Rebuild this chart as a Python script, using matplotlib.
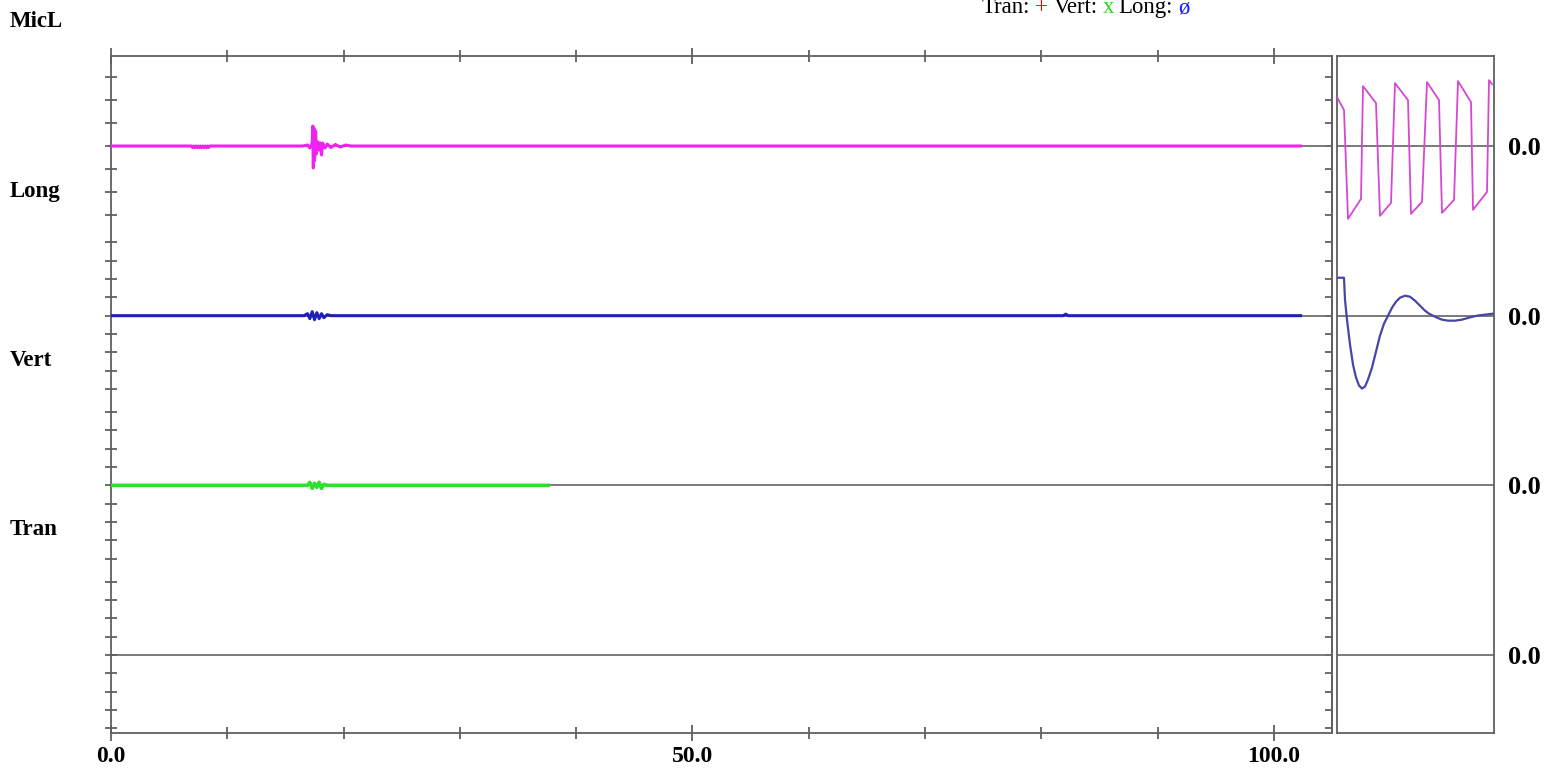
import matplotlib
matplotlib.use("Agg")
import matplotlib.pyplot as plt

# ---------------- data ----------------
channel_names = ["MicL", "Long", "Vert", "Tran"]
channel_offsets = [0, -1, -2, -3]          # baseline of each channel (channel units)
AMP_PER_CHANNEL = 170.0                     # amplitude units per channel spacing

# main record (time axis 0..105)
micl_t = [0.0, 6.9, 7.0, 7.1, 7.2, 7.3, 7.4, 7.5, 7.6, 7.7, 7.8, 7.9, 8.0, 8.1, 8.2, 8.3, 8.4,
          8.5, 16.5, 16.9, 17.1, 17.3, 17.35, 17.4, 17.45, 17.5, 17.6, 17.65, 17.8, 17.9,
          18.0, 18.1, 18.2, 18.4, 18.6, 18.9, 19.3, 19.7, 20.2, 20.6, 102.3]
micl_v = [0, 0, -1.5, 0, -1.5, 0, -1.5, 0, -1.5, 0, -1.5, 0, -1.5, 0, -1.5, 0, -1.5,
          0, 0, 1, -2, 3, 20, -22, 18, -15, 15, -8, 4, -4,
          3, -9, 3, -2, 2, -1.5, 1.5, -1, 1, 0, 0]

long_t = [0.0, 16.6, 16.9, 17.1, 17.3, 17.5, 17.7, 17.9, 18.1, 18.3, 18.6, 18.9, 81.9, 82.1, 82.3, 102.3]
long_v = [0, 0, 2, -3, 4, -4, 3, -3, 2, -2, 1, 0, 0, 1.5, 0, 0]

vert_t = [0.0, 16.9, 17.1, 17.3, 17.5, 17.7, 17.9, 18.1, 18.3, 18.6, 37.6]
vert_v = [0, 0, 3, -3, 2, -2, 3, -3, 1, 0, 0]

tran_t = []
tran_v = []

# zoom window (right panel, sample index 0..157)
zoom_micl_t = [0, 7, 11, 24, 26, 39, 43, 54, 58, 71, 74, 85, 90, 102, 105, 117, 121, 134,
               136, 150, 152, 155]
zoom_micl_v = [49, 36, -73, -53, 60, 43, -70, -57, 63, 46, -68, -56, 64, 46, -67, -54, 65, 44,
               -64, -46, 66, 62]
zoom_long_t = [0, 7, 8, 10, 13, 16, 19, 22, 25, 28, 31, 35, 39, 43, 47, 51, 55, 59, 63, 68,
               73, 78, 83, 88, 92, 96, 100, 105, 111, 118, 125, 132, 140, 148, 156]
zoom_long_v = [38, 38, 16, -4, -29, -49, -62, -70, -73, -71, -64, -52, -36, -20, -8, 0, 8,
               14, 18, 20, 19, 15, 10, 5, 2, 0, -2, -4, -5, -5, -4, -2, 0, 1, 2]

x_major = [0, 50, 100]
x_major_labels = ["0.0", "50.0", "100.0"]
x_minor = [10, 20, 30, 40, 60, 70, 80, 90]

# ---------------- figure ----------------
W, H = 1551, 769
fig = plt.figure(figsize=(W / 100, H / 100), dpi=100)

def fx(px):
    return px / W

def fy(py):
    return 1 - py / H

SERIF = ["Liberation Serif", "DejaVu Serif"]
GRAY = "#606060"

ax = fig.add_axes([fx(111), fy(733), fx(1332) - fx(111), fy(56) - fy(733)])
axr = fig.add_axes([fx(1337), fy(733), fx(1494) - fx(1337), fy(56) - fy(733)])

sp_px = 169.67
ylim = (-3 - 78 / sp_px, 90 / sp_px)

for a in (ax, axr):
    a.set_ylim(*ylim)
    for s in a.spines.values():
        s.set_color(GRAY)
        s.set_linewidth(1.3)
    for off in channel_offsets:
        a.axhline(off, color="#707070", lw=1.3, zorder=1)

ax.set_xlim(0, 105)
axr.set_xlim(0, 157)

# traces
def scaled(vals, off):
    return [off + v / AMP_PER_CHANNEL for v in vals]

ax.plot(micl_t, scaled(micl_v, channel_offsets[0]), color="#f022f0", lw=2.2, zorder=3)
ax.plot(long_t, scaled(long_v, channel_offsets[1]), color="#2020b8", lw=2.2, zorder=3)
ax.plot(vert_t, scaled(vert_v, channel_offsets[2]), color="#2ee02e", lw=2.6, zorder=3)
if tran_t:
    ax.plot(tran_t, scaled(tran_v, channel_offsets[3]), color="red", lw=2.2, zorder=3)

axr.plot(zoom_micl_t, scaled(zoom_micl_v, channel_offsets[0]), color="#d448d4", lw=1.3, zorder=3)
axr.plot(zoom_long_t, scaled(zoom_long_v, channel_offsets[1]), color="#4646a6", lw=1.6, zorder=3)

# x ticks top & bottom
ax.set_xticks(x_major)
ax.set_xticks(x_minor, minor=True)
ax.set_xticklabels(x_major_labels, fontfamily=SERIF, fontweight="bold", fontsize=17)
ax.tick_params(axis="x", which="both", top=True, bottom=True, direction="inout",
               color=GRAY, width=1.3, labeltop=False, labelbottom=True)
ax.tick_params(axis="x", which="major", length=12, pad=3)
ax.tick_params(axis="x", which="minor", length=8.6)

# y ticks: per channel
yt = []
for k in range(-3, 4):
    yt.append(channel_offsets[0] + k * 23 / sp_px)
for off in channel_offsets[1:]:
    for k in range(-4, 5):
        yt.append(off + k * 18.3 / sp_px)
ax.set_yticks(yt)
ax.set_yticklabels([])
ax.tick_params(axis="y", left=True, right=False, direction="inout", length=8.6,
               width=1.3, color=GRAY)
sec = ax.secondary_yaxis("right")
sec.set_yticks(yt)
sec.set_yticklabels([])
sec.tick_params(direction="in", length=5, width=1.3, color=GRAY)
sec.spines["right"].set_color(GRAY)
sec.spines["right"].set_linewidth(1.3)

# right panel: no x ticks, "0.0" labels at baselines on the right
axr.set_xticks([])
axr.yaxis.tick_right()
axr.set_yticks(channel_offsets)
axr.set_yticklabels(["0.0"] * len(channel_offsets), fontfamily=SERIF,
                    fontweight="bold", fontsize=19)
axr.tick_params(axis="y", length=0, pad=10)

# channel names on the left
name_baselines = [27, 197, 366, 535]
for name, yb in zip(channel_names, name_baselines):
    fig.text(fx(10), fy(yb), name, fontfamily=SERIF, fontweight="bold",
             fontsize=16.5, va="baseline", ha="left")

# legend line at top (multi-colored)
pieces = [("Tran:", "black"), ("+", "red"), ("Vert:", "black"), ("x", "#22dd22"),
          ("Long:", "black"), ("\u00f8", "#1a1aff")]
FS_LEG = 16.4
renderer = fig.canvas.get_renderer()
t1 = fig.text(0, 0, "T T", fontfamily=SERIF, fontsize=FS_LEG)
t2 = fig.text(0, 0, "TT", fontfamily=SERIF, fontsize=FS_LEG)
space_w = t1.get_window_extent(renderer).width - t2.get_window_extent(renderer).width
t1.remove()
t2.remove()
xcur = 982.0
for txt, col in pieces:
    t = fig.text(fx(xcur), fy(13), txt, color=col, fontfamily=SERIF, fontsize=FS_LEG,
                 va="baseline", ha="left")
    w = t.get_window_extent(renderer).width
    xcur += w + space_w

fig.savefig("out.png", dpi=100, facecolor="white")
